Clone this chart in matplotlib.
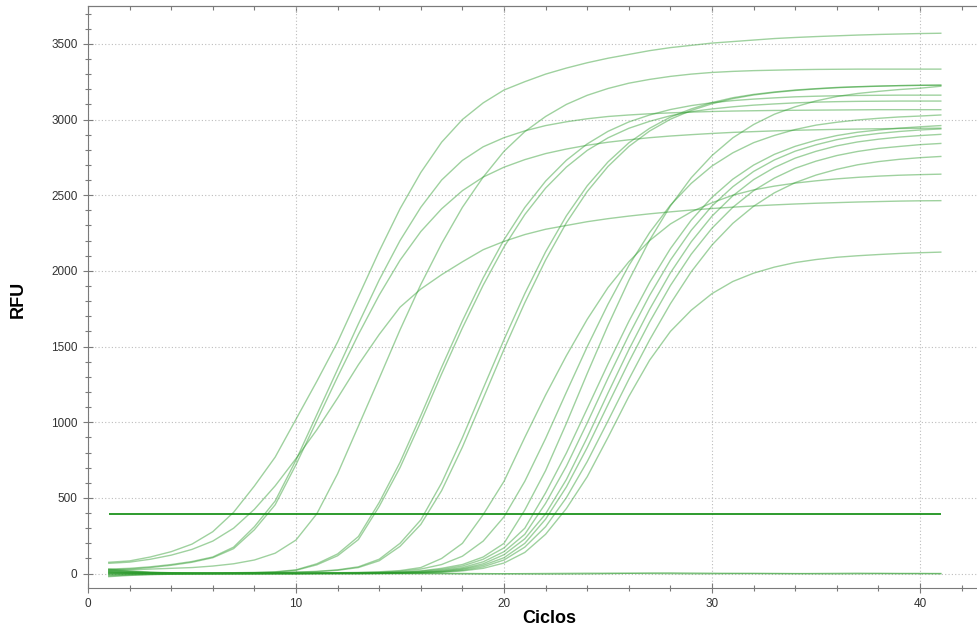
import matplotlib
matplotlib.use("Agg")
import matplotlib.pyplot as plt
from matplotlib.ticker import MultipleLocator

plt.rcParams['font.family'] = ['Liberation Sans', 'DejaVu Sans']

# amplification data (RFU per cycle)
cycles = list(range(1, 42))
threshold = 395

A1 = [75, 84, 110, 145, 195, 277, 405, 579, 770, 1020, 1270, 1530, 1830, 2130, 2410, 2650, 2850, 3000, 3110, 3195,
      3250, 3300, 3340, 3375, 3405, 3430, 3455, 3475, 3490, 3505, 3515, 3525, 3535, 3542, 3548, 3553, 3558, 3562, 3565, 3568, 3570]
A2 = [68, 76, 95, 122, 160, 215, 300, 425, 580, 760, 950, 1160, 1380, 1580, 1760, 1880, 1975, 2060, 2140, 2195,
      2240, 2275, 2300, 2325, 2345, 2362, 2377, 2390, 2402, 2412, 2421, 2429, 2436, 2442, 2447, 2451, 2455, 2458, 2461, 2463, 2464]
A3 = [30, 35, 45, 60, 80, 110, 175, 310, 480, 750, 1050, 1350, 1650, 1940, 2200, 2420, 2600, 2730, 2820, 2880,
      2925, 2960, 2985, 3005, 3020, 3030, 3038, 3044, 3049, 3053, 3056, 3058, 3060, 3061, 3062, 3063, 3064, 3065, 3065, 3065, 3065]
A4 = [25, 30, 40, 55, 75, 105, 165, 290, 455, 720, 1010, 1300, 1580, 1840, 2070, 2260, 2410, 2530, 2620, 2685,
      2735, 2775, 2805, 2830, 2850, 2866, 2880, 2891, 2900, 2908, 2915, 2920, 2925, 2929, 2932, 2935, 2937, 2939, 2941, 2942, 2943]
B = [20, 25, 30, 35, 40, 50, 65, 90, 135, 222, 395, 660, 975, 1290, 1610, 1910, 2180, 2420, 2620, 2790,
     2920, 3020, 3100, 3160, 3205, 3240, 3265, 3285, 3300, 3311, 3318, 3323, 3326, 3329, 3331, 3332, 3333, 3333, 3333, 3333, 3333]
C1 = [10, 8, 6, 5, 5, 5, 6, 8, 12, 25, 65, 130, 245, 470, 735, 1044, 1363, 1670, 1954, 2206,
      2419, 2593, 2731, 2839, 2922, 2984, 3030, 3066, 3092, 3111, 3125, 3135, 3143, 3150, 3154, 3157, 3159, 3160, 3161, 3161, 3161]
C2 = [-5, -3, -1, 0, 1, 2, 4, 6, 10, 22, 58, 118, 225, 444, 700, 1003, 1319, 1623, 1906, 2158,
      2372, 2547, 2686, 2796, 2879, 2942, 2988, 3025, 3052, 3070, 3084, 3095, 3103, 3110, 3115, 3118, 3120, 3121, 3122, 3122, 3122]
D1 = [5, 3, 2, 2, 2, 3, 4, 5, 7, 10, 15, 25, 45, 95, 200, 355, 599, 898, 1224, 1546,
      1850, 2126, 2364, 2562, 2720, 2846, 2942, 3016, 3070, 3112, 3144, 3166, 3182, 3195, 3204, 3212, 3217, 3221, 3224, 3226, 3227]
D2 = [15, 10, 6, 4, 3, 3, 3, 4, 6, 9, 13, 22, 40, 85, 180, 325, 548, 836, 1158, 1482,
      1790, 2072, 2318, 2524, 2690, 2822, 2924, 3002, 3060, 3104, 3138, 3162, 3179, 3192, 3202, 3210, 3216, 3220, 3224, 3226, 3227]
E = [0, 0, 1, 1, 1, 2, 2, 3, 3, 4, 5, 6, 8, 12, 20, 40, 100, 200, 390, 610,
     900, 1180, 1440, 1680, 1890, 2060, 2200, 2310, 2390, 2450, 2500, 2535, 2560, 2580, 2595, 2608, 2618, 2626, 2632, 2636, 2639]
F1 = [20, 12, 7, 4, 3, 2, 2, 2, 2, 3, 3, 4, 6, 9, 15, 30, 60, 115, 215, 375,
      610, 893, 1199, 1499, 1780, 2035, 2253, 2434, 2578, 2693, 2780, 2847, 2895, 2934, 2963, 2982, 2997, 3008, 3017, 3023, 3030]
F2 = [30, 18, 10, 6, 4, 3, 2, 2, 2, 2, 3, 3, 4, 6, 10, 18, 35, 60, 110, 200,
      420, 681, 993, 1322, 1640, 1937, 2203, 2429, 2615, 2762, 2879, 2967, 3035, 3084, 3123, 3152, 3172, 3186, 3198, 3207, 3220]
F3 = [-10, -6, -3, -1, 0, 1, 1, 1, 2, 2, 2, 3, 4, 6, 9, 16, 28, 50, 95, 170,
      300, 534, 797, 1090, 1385, 1666, 1923, 2147, 2335, 2486, 2606, 2699, 2770, 2823, 2863, 2894, 2916, 2931, 2943, 2952, 2960]
F4 = [25, 15, 8, 4, 2, 1, 1, 1, 1, 1, 2, 2, 3, 4, 7, 12, 22, 40, 78, 145,
      260, 464, 710, 995, 1291, 1575, 1838, 2071, 2268, 2429, 2556, 2657, 2733, 2791, 2833, 2867, 2891, 2908, 2921, 2931, 2938]
F5 = [5, 3, 1, 0, 0, 0, 1, 1, 1, 1, 1, 2, 2, 3, 5, 9, 17, 33, 65, 125,
      230, 395, 622, 899, 1193, 1479, 1746, 1987, 2192, 2362, 2496, 2603, 2683, 2745, 2790, 2826, 2852, 2870, 2884, 2894, 2902]
F6 = [12, 8, 5, 3, 2, 1, 0, 0, 0, 1, 1, 1, 2, 3, 4, 8, 14, 28, 55, 105,
      200, 360, 573, 833, 1117, 1398, 1662, 1903, 2110, 2282, 2420, 2530, 2613, 2678, 2725, 2762, 2789, 2809, 2822, 2834, 2842]
F7 = [-20, -12, -7, -4, -2, -1, 0, 0, 0, 0, 1, 1, 1, 2, 3, 6, 11, 22, 45, 90,
      175, 310, 502, 740, 1009, 1283, 1544, 1783, 1994, 2171, 2314, 2427, 2516, 2583, 2633, 2671, 2701, 2722, 2737, 2748, 2756]
F8 = [0, 0, 0, 0, 0, 0, 0, 0, 0, 0, 1, 1, 1, 2, 3, 5, 9, 18, 35, 70,
      140, 260, 430, 640, 900, 1170, 1410, 1600, 1740, 1850, 1930, 1985, 2025, 2055, 2075, 2090, 2100, 2108, 2115, 2120, 2124]
# negative wells
N1 = [10, 5, 2, 0, -1, -2, -2, -1, 0, 0, 1, 0, -1, -1, 0, 1, 2, 1, 0, -1,
      -2, -3, -3, -2, 0, 2, 4, 5, 4, 3, 2, 1, 0, 0, 1, 2, 3, 2, 1, 0, -1]
N2 = [-15, -9, -5, -3, -2, -1, 0, 0, 0, -1, -1, 0, 0, 1, 1, 0, -1, -2, -2, -1,
      0, 1, 2, 3, 3, 2, 1, 0, -1, -1, 0, 1, 1, 0, -1, -2, -1, 0, 0, 1, 1]

wells = [A1, A2, A3, A4, B, C1, C2, D1, D2, E, F1, F2, F3, F4, F5, F6, F7, F8, N1, N2]

fig = plt.figure(figsize=(9.77, 6.34), dpi=100)
ax = fig.add_axes([88/977, 46/634, 889/977, 582/634])

for w in wells:
    ax.plot(cycles, w, color='#2a9a2a', alpha=0.45, lw=1.0)
ax.hlines(threshold, cycles[0], cycles[-1], color='#0b8a0b', lw=1.2)

ax.set_xlim(0, 42.74)
ax.set_ylim(-95, 3750)
ax.xaxis.set_major_locator(MultipleLocator(10))
ax.xaxis.set_minor_locator(MultipleLocator(2))
ax.yaxis.set_major_locator(MultipleLocator(500))
ax.yaxis.set_minor_locator(MultipleLocator(100))
ax.grid(which='major', linestyle=(0, (1, 2)), color='#bdbdbd', lw=0.8)
ax.set_axisbelow(True)

ax.spines['right'].set_visible(False)
for s in ['left', 'bottom', 'top']:
    ax.spines[s].set_color('#7a7a7a')
ax.tick_params(which='major', direction='inout', length=7, width=0.8, colors='#7a7a7a',
               labelcolor='#333333', labelsize=8.5, pad=4)
ax.tick_params(which='minor', direction='inout', length=4, width=0.8, colors='#7a7a7a')

# top edge only gets small inward ticks
top = ax.secondary_xaxis('top')
top.xaxis.set_major_locator(MultipleLocator(10))
top.xaxis.set_minor_locator(MultipleLocator(2))
top.tick_params(which='major', direction='in', length=4, width=0.8, colors='#7a7a7a', labeltop=False)
top.tick_params(which='minor', direction='in', length=3, width=0.8, colors='#7a7a7a')
top.spines['top'].set_color('#7a7a7a')

ax.set_xlabel('Ciclos', fontsize=13, fontweight='bold')
ax.set_ylabel('RFU', fontsize=13, fontweight='bold')
ax.xaxis.set_label_coords(0.5186, -0.038)
ax.yaxis.set_label_coords(-0.069, 0.495)

fig.savefig('out.png', dpi=100)
